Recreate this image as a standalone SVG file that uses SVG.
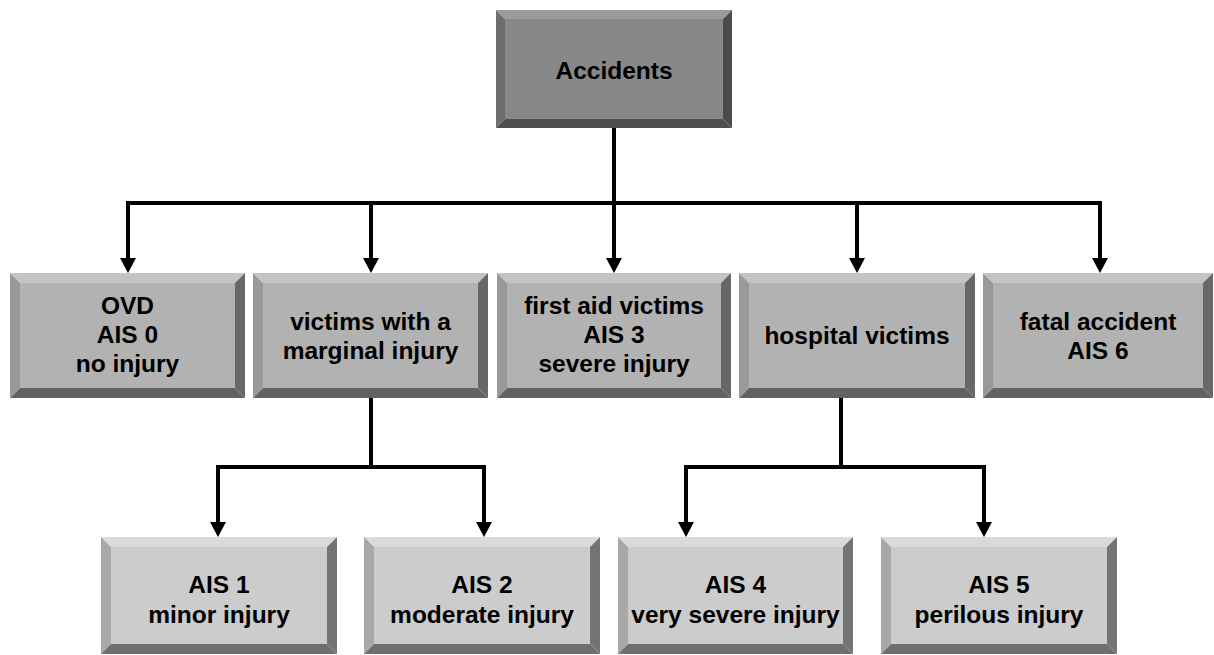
<svg xmlns="http://www.w3.org/2000/svg" width="1214" height="655" viewBox="0 0 1214 655">
<style>
.t{font-family:"Liberation Sans",Arial,sans-serif;font-weight:bold;font-size:24.5px;fill:#000;text-anchor:middle}
.d .tp{fill:#9b9b9b}.d .lf{fill:#6e6e6e}.d .rt{fill:#4b4b4b}.d .bt{fill:#4e4e4e}.d .fc{fill:#888888}
.m .tp{fill:#c4c4c4}.m .lf{fill:#999999}.m .rt{fill:#676767}.m .bt{fill:#626262}.m .fc{fill:#b2b2b2}
.l .tp{fill:#dadada}.l .lf{fill:#a8a8a8}.l .rt{fill:#747474}.l .bt{fill:#6f6f6f}.l .fc{fill:#cccccc}
.c{fill:none;stroke:#000;stroke-width:4}
</style>
<defs>
<marker id="ah" markerUnits="userSpaceOnUse" markerWidth="16" markerHeight="18" viewBox="0 -9 16 18" refX="2" refY="0" orient="auto">
<path d="M0,-8 L15,0 L0,8 z" fill="#000"/>
</marker>
</defs>
<rect width="1214" height="655" fill="#fff"/>
<g id="connectors">
<path class="c" d="M614,128 V203"/>
<path class="c" d="M128,203 H1100"/>
<path class="c" d="M128,201 V260" marker-end="url(#ah)"/>
<path class="c" d="M371,203 V260" marker-end="url(#ah)"/>
<path class="c" d="M614,203 V260" marker-end="url(#ah)"/>
<path class="c" d="M857,203 V260" marker-end="url(#ah)"/>
<path class="c" d="M1100,201 V260" marker-end="url(#ah)"/>
<path class="c" d="M371,398 V467"/>
<path class="c" d="M218,467 H484"/>
<path class="c" d="M218,465 V524" marker-end="url(#ah)"/>
<path class="c" d="M484,465 V524" marker-end="url(#ah)"/>
<path class="c" d="M841,398 V467"/>
<path class="c" d="M686,467 H984"/>
<path class="c" d="M686,465 V524" marker-end="url(#ah)"/>
<path class="c" d="M984,465 V524" marker-end="url(#ah)"/>
</g>
<g id="accidents" class="d">
<polygon class="tp" points="496,10 732,10 723,19 505,19"/>
<polygon class="lf" points="496,10 505,19 505,119 496,128"/>
<polygon class="rt" points="732,10 732,128 723,119 723,19"/>
<polygon class="bt" points="496,128 505,119 723,119 732,128"/>
<rect class="fc" x="505" y="19" width="218" height="100"/>
<text class="t" x="614" y="79">Accidents</text>
</g>
<g id="ovd" class="m">
<polygon class="tp" points="10,273 245,273 235,283 20,283"/>
<polygon class="lf" points="10,273 20,283 20,388 10,398"/>
<polygon class="rt" points="245,273 245,398 235,388 235,283"/>
<polygon class="bt" points="10,398 20,388 235,388 245,398"/>
<rect class="fc" x="20" y="283" width="215" height="105"/>
<text class="t" x="127.5" y="314">OVD</text>
<text class="t" x="127.5" y="343">AIS 0</text>
<text class="t" x="127.5" y="372">no injury</text>
</g>
<g id="marginal" class="m">
<polygon class="tp" points="253,273 488,273 478,283 263,283"/>
<polygon class="lf" points="253,273 263,283 263,388 253,398"/>
<polygon class="rt" points="488,273 488,398 478,388 478,283"/>
<polygon class="bt" points="253,398 263,388 478,388 488,398"/>
<rect class="fc" x="263" y="283" width="215" height="105"/>
<text class="t" x="370.5" y="330">victims with a</text>
<text class="t" x="370.5" y="359">marginal injury</text>
</g>
<g id="firstaid" class="m">
<polygon class="tp" points="497,273 731,273 721,283 507,283"/>
<polygon class="lf" points="497,273 507,283 507,388 497,398"/>
<polygon class="rt" points="731,273 731,398 721,388 721,283"/>
<polygon class="bt" points="497,398 507,388 721,388 731,398"/>
<rect class="fc" x="507" y="283" width="214" height="105"/>
<text class="t" x="614" y="314">first aid victims</text>
<text class="t" x="614" y="343">AIS 3</text>
<text class="t" x="614" y="372">severe injury</text>
</g>
<g id="hospital" class="m">
<polygon class="tp" points="739,273 975,273 965,283 749,283"/>
<polygon class="lf" points="739,273 749,283 749,388 739,398"/>
<polygon class="rt" points="975,273 975,398 965,388 965,283"/>
<polygon class="bt" points="739,398 749,388 965,388 975,398"/>
<rect class="fc" x="749" y="283" width="216" height="105"/>
<text class="t" x="857" y="344">hospital victims</text>
</g>
<g id="fatal" class="m">
<polygon class="tp" points="983,273 1213,273 1203,283 993,283"/>
<polygon class="lf" points="983,273 993,283 993,388 983,398"/>
<polygon class="rt" points="1213,273 1213,398 1203,388 1203,283"/>
<polygon class="bt" points="983,398 993,388 1203,388 1213,398"/>
<rect class="fc" x="993" y="283" width="210" height="105"/>
<text class="t" x="1098" y="330">fatal accident</text>
<text class="t" x="1098" y="359">AIS 6</text>
</g>
<g id="ais1" class="l">
<polygon class="tp" points="101,537 337,537 327,547 111,547"/>
<polygon class="lf" points="101,537 111,547 111,644 101,654"/>
<polygon class="rt" points="337,537 337,654 327,644 327,547"/>
<polygon class="bt" points="101,654 111,644 327,644 337,654"/>
<rect class="fc" x="111" y="547" width="216" height="97"/>
<text class="t" x="219" y="593">AIS 1</text>
<text class="t" x="219" y="623">minor injury</text>
</g>
<g id="ais2" class="l">
<polygon class="tp" points="364,537 600,537 590,547 374,547"/>
<polygon class="lf" points="364,537 374,547 374,644 364,654"/>
<polygon class="rt" points="600,537 600,654 590,644 590,547"/>
<polygon class="bt" points="364,654 374,644 590,644 600,654"/>
<rect class="fc" x="374" y="547" width="216" height="97"/>
<text class="t" x="482" y="593">AIS 2</text>
<text class="t" x="482" y="623">moderate injury</text>
</g>
<g id="ais4" class="l">
<polygon class="tp" points="618,537 853,537 843,547 628,547"/>
<polygon class="lf" points="618,537 628,547 628,644 618,654"/>
<polygon class="rt" points="853,537 853,654 843,644 843,547"/>
<polygon class="bt" points="618,654 628,644 843,644 853,654"/>
<rect class="fc" x="628" y="547" width="215" height="97"/>
<text class="t" x="735.5" y="593">AIS 4</text>
<text class="t" x="735.5" y="623">very severe injury</text>
</g>
<g id="ais5" class="l">
<polygon class="tp" points="881,537 1117,537 1107,547 891,547"/>
<polygon class="lf" points="881,537 891,547 891,644 881,654"/>
<polygon class="rt" points="1117,537 1117,654 1107,644 1107,547"/>
<polygon class="bt" points="881,654 891,644 1107,644 1117,654"/>
<rect class="fc" x="891" y="547" width="216" height="97"/>
<text class="t" x="999" y="593">AIS 5</text>
<text class="t" x="999" y="623">perilous injury</text>
</g>
</svg>
